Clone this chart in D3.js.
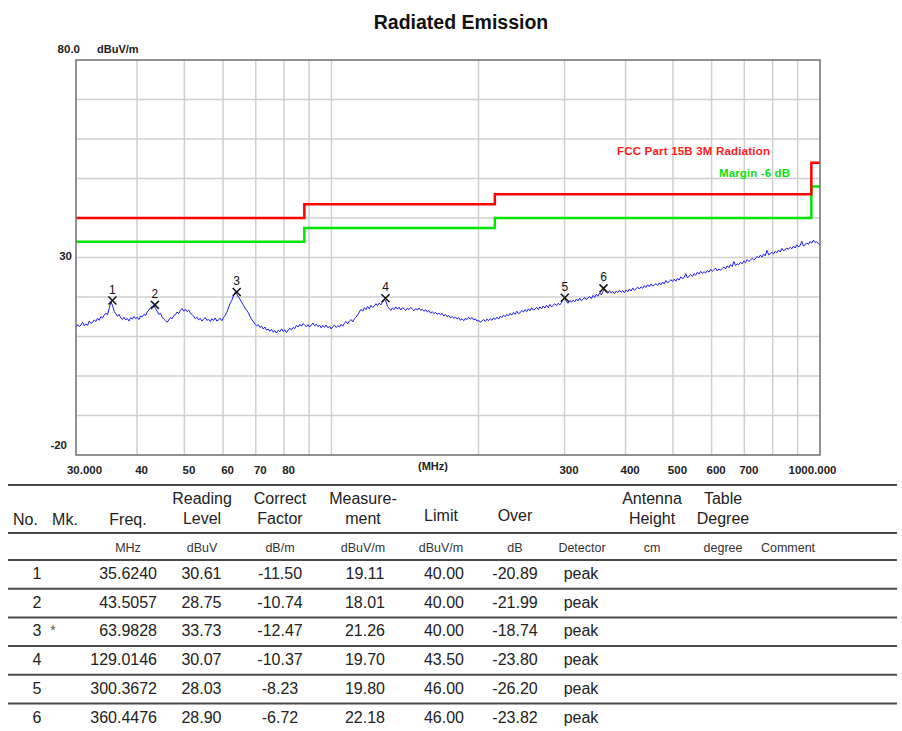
<!DOCTYPE html>
<html><head><meta charset="utf-8">
<script src="https://cdn.jsdelivr.net/npm/d3@7"></script>
<style>body{margin:0;background:#fff}svg{display:block}</style>
</head><body><svg id="c" width="902" height="731"></svg>
<script>
// ---------- DATA ----------
const sweepStart = 30, sweepStop = 1000;
const traceLevels = [
12.3,13.0,12.5,12.9,13.6,12.7,13.2,12.8,13.9,13.3,
13.6,14.2,13.8,14.6,14.1,15.0,14.7,15.4,15.9,15.5,
17.0,18.8,17.9,16.4,15.8,15.1,15.6,14.7,14.3,14.9,
14.2,14.6,13.9,14.8,14.4,15.1,14.5,14.9,14.3,15.2,
15.0,15.6,15.3,16.2,16.7,17.3,17.6,17.9,17.1,16.4,
15.6,15.9,14.9,14.4,14.0,13.6,14.2,14.8,14.5,15.3,
15.5,16.2,15.8,16.6,17.1,16.4,16.9,16.3,16.7,15.9,
15.6,15.1,14.5,14.9,14.2,14.6,13.9,14.4,14.8,14.1,
14.3,13.8,14.5,14.0,14.7,13.9,14.2,14.6,14.0,14.8,
15.3,16.1,17.2,18.4,19.1,20.3,21.2,20.7,20.0,19.4,
18.6,18.0,17.2,16.6,16.0,15.1,14.3,13.8,13.1,12.7,
13.0,12.3,12.6,11.9,12.4,11.6,11.9,11.3,11.8,11.1,
11.5,10.9,11.6,11.2,11.9,11.3,11.7,11.0,11.6,12.1,
11.7,12.3,12.0,12.8,12.4,13.1,12.6,13.3,12.9,12.5,
13.0,12.4,12.9,13.4,12.7,13.1,12.5,12.9,12.2,12.8,
12.3,12.9,12.2,12.6,11.9,12.5,12.9,12.3,12.7,12.4,
13.1,12.6,13.4,13.8,13.2,13.9,14.3,13.7,14.5,14.9,
15.5,16.2,16.9,16.4,17.3,16.8,17.6,17.0,17.9,17.3,
17.7,18.3,17.8,18.5,18.0,18.7,19.3,19.0,17.6,17.1,
16.6,17.2,16.8,17.5,16.9,17.4,16.7,17.3,17.0,16.6,
17.2,16.8,17.4,16.9,16.5,17.1,16.7,17.2,16.6,16.9,
16.4,16.8,16.2,16.6,15.9,16.3,15.8,16.1,15.6,15.9,
15.5,15.8,15.2,15.6,15.0,15.3,14.7,15.1,14.6,14.9,
14.4,14.8,14.1,14.5,14.0,14.6,14.3,14.9,14.4,14.8,
14.2,14.5,13.9,14.1,13.6,13.9,14.3,13.8,14.4,14.0,
14.5,14.1,14.7,14.3,14.9,14.4,15.1,14.8,15.4,15.0,
15.6,15.2,15.9,15.4,16.1,15.6,16.4,15.8,16.0,16.6,
16.2,16.8,16.3,17.0,16.5,17.3,16.7,16.9,17.4,16.8,
17.5,17.0,17.7,17.2,17.9,17.3,18.1,17.5,17.9,18.3,
17.8,18.4,18.0,18.6,19.4,19.7,18.8,18.4,19.1,18.7,
19.2,18.8,19.5,19.0,19.7,19.1,19.4,19.9,19.3,19.8,
20.1,19.6,20.4,19.9,20.7,20.2,21.0,20.5,21.4,22.0,
21.3,20.9,21.6,21.0,21.4,20.8,21.5,21.1,21.7,21.2,
21.6,21.1,21.8,21.3,22.0,21.5,22.3,21.7,22.1,22.5,
22.0,22.6,22.2,22.9,22.4,23.1,22.6,23.3,22.8,23.0,
23.4,22.9,23.6,23.1,23.8,23.3,24.2,23.6,23.9,24.4,
23.9,24.5,24.0,24.7,24.3,25.1,24.6,24.9,25.9,24.8,
25.3,25.7,25.2,25.9,25.5,26.3,25.8,26.5,26.0,26.4,
26.1,26.7,26.3,27.0,26.5,26.9,27.3,26.6,27.1,26.8,
27.2,27.6,27.1,27.9,27.4,28.2,27.7,29.0,28.0,28.4,
28.2,28.8,28.4,29.1,28.7,29.5,29.0,29.3,29.8,29.4,
29.7,30.3,29.9,30.6,30.1,30.9,30.4,31.8,30.7,31.0,
31.3,30.9,31.6,31.2,31.9,31.4,32.3,31.7,32.0,32.4,
32.1,32.6,32.2,32.9,32.4,33.2,32.7,33.0,34.1,32.9,
33.2,33.7,33.3,34.1,33.6,34.4,33.8,34.0,33.5,33.1
];
const limitEdges = [30, 88, 216, 960, 1000];
const limitLevels = [40, 43.5, 46, 54];
const marginLevels = [34, 37.5, 40, 48];
const limitName = "FCC Part 15B 3M Radiation";
const marginName = "Margin -6 dB";
const xGridValues = [40,50,60,70,80,90,100,200,300,400,500,600,700,800,900];
const yGridValues = [70,60,50,40,30,20,10,0,-10];
const xTickValues = [30,40,50,60,70,80,300,400,500,600,700,1000];
const xTickLabels = ["30.000","40","50","60","70","80","300","400","500","600","700","1000.000"];
const yTickValues = [80,30,-20];
const yTickLabels = ["80.0","30","-20"];

const markNo = ["1","2","3","4","5","6"];
const markMk = ["","","*","","",""];
const markFreq = ["35.6240","43.5057","63.9828","129.0146","300.3672","360.4476"];
const markReading = ["30.61","28.75","33.73","30.07","28.03","28.90"];
const markCorrect = ["-11.50","-10.74","-12.47","-10.37","-8.23","-6.72"];
const markMeasure = ["19.11","18.01","21.26","19.70","19.80","22.18"];
const markLimit = ["40.00","40.00","40.00","43.50","46.00","46.00"];
const markOver = ["-20.89","-21.99","-18.74","-23.80","-26.20","-23.82"];
const markDetector = ["peak","peak","peak","peak","peak","peak"];

const headerLines = [["No."],["Mk."],["Freq."],["Reading","Level"],["Correct","Factor"],["Measure-","ment"],["Limit"],["Over"],[],["Antenna","Height"],["Table","Degree"],[]];
const unitLabels = ["","","MHz","dBuV","dB/m","dBuV/m","dBuV/m","dB","Detector","cm","degree","Comment"];

// ---------- CHART ----------
const svg = d3.select("#c");
const F = "'Liberation Sans', Arial, sans-serif";
const L = 76, R = 820, T = 60, B = 455;
const x = d3.scaleLog().domain([sweepStart, sweepStop]).range([L, R]);
const y = d3.scaleLinear().domain([-20, 80]).range([B, T]);

svg.append("text").attr("x", 461).attr("y", 29).attr("text-anchor", "middle")
  .attr("font-family", F).attr("font-weight", "bold").attr("font-size", 19.5).attr("fill", "#111")
  .text("Radiated Emission");

// grid
const g = svg.append("g");
g.selectAll(".vg").data(xGridValues).join("line")
  .attr("x1", d => x(d)).attr("x2", d => x(d)).attr("y1", T).attr("y2", B)
  .attr("stroke", "#cfcfcf").attr("stroke-width", 1.5);
g.selectAll(".hg").data(yGridValues).join("line")
  .attr("x1", L).attr("x2", R).attr("y1", d => y(d)).attr("y2", d => y(d))
  .attr("stroke", "#cfcfcf").attr("stroke-width", 1.5);

// limit & margin
const stepLine = d3.line().x(d => x(d[0])).y(d => y(d[1])).curve(d3.curveStepAfter);
const limPts = limitEdges.map((f, i) => [f, limitLevels[Math.min(i, limitLevels.length - 1)]]);
const marPts = limitEdges.map((f, i) => [f, marginLevels[Math.min(i, marginLevels.length - 1)]]);
svg.append("path").attr("d", stepLine(marPts)).attr("fill", "none").attr("stroke", "#00e600").attr("stroke-width", 2.5);
svg.append("path").attr("d", stepLine(limPts)).attr("fill", "none").attr("stroke", "#ff0000").attr("stroke-width", 2.5);

// trace
const n = traceLevels.length;
const traceLine = d3.line()
  .x((d, i) => x(sweepStart * Math.pow(sweepStop / sweepStart, i / (n - 1))))
  .y(d => y(d));
svg.append("path").attr("d", traceLine(traceLevels)).attr("fill", "none")
  .attr("stroke", "#1a1aff").attr("stroke-width", 1);

// markers
const mk = svg.append("g");
markNo.forEach((no, i) => {
  const cx = x(+markFreq[i]), cy = y(+markMeasure[i]);
  mk.append("path").attr("d", `M${cx-4},${cy-4}L${cx+4},${cy+4}M${cx+4},${cy-4}L${cx-4},${cy+4}`)
    .attr("stroke", "#111").attr("stroke-width", 1.5);
  mk.append("text").attr("x", cx).attr("y", cy - 7).attr("text-anchor", "middle")
    .attr("font-family", F).attr("font-size", 12).attr("fill", "#111").text(no);
});

// border
svg.append("rect").attr("x", L).attr("y", T).attr("width", R - L).attr("height", B - T)
  .attr("fill", "none").attr("stroke", "#6e6e6e").attr("stroke-width", 1.5);

// x axis labels
const xAxis = d3.axisBottom(x).tickValues(xTickValues).tickFormat((d, i) => xTickLabels[i]).tickSize(0).tickPadding(11);
const xa = svg.append("g").attr("transform", `translate(0,${B})`).call(xAxis);
xa.select(".domain").remove();
xa.selectAll("text").attr("font-family", F).attr("font-weight", "bold").attr("font-size", 11.5).attr("fill", "#222")
  .attr("dx", (d, i) => i === 0 ? 8 : (i === xTickValues.length - 1 ? -8 : 4));
svg.append("text").attr("x", 433).attr("y", 470).attr("text-anchor", "middle")
  .attr("font-family", F).attr("font-weight", "bold").attr("font-size", 11).attr("fill", "#222").text("(MHz)");

// y axis labels
const yOff = [-11, -2, -10];
const yEnd = [80, 72, 67];
yTickValues.forEach((v, i) => {
  svg.append("text").attr("x", yEnd[i]).attr("y", y(v) + yOff[i] + 4).attr("text-anchor", "end")
    .attr("font-family", F).attr("font-weight", "bold").attr("font-size", 11.5).attr("fill", "#222").text(yTickLabels[i]);
});
svg.append("text").attr("x", 97).attr("y", 53).attr("font-family", F).attr("font-weight", "bold")
  .attr("font-size", 11).attr("fill", "#222").text("dBuV/m");

// legend
svg.append("text").attr("x", 617).attr("y", 155).attr("font-family", F).attr("font-weight", "bold")
  .attr("font-size", 11.5).attr("fill", "#ff1a1a").attr("textLength", 153).attr("lengthAdjust", "spacing").text(limitName);
svg.append("text").attr("x", 719).attr("y", 177).attr("font-family", F).attr("font-weight", "bold")
  .attr("font-size", 11.5).attr("fill", "#10e010").attr("textLength", 71).attr("lengthAdjust", "spacing").text(marginName);

// ---------- TABLE ----------
const tb = svg.append("g").attr("font-family", F);
const rule = yy => tb.append("line").attr("x1", 8).attr("x2", 897).attr("y1", yy).attr("y2", yy)
  .attr("stroke", "#4a4a4a").attr("stroke-width", 2);
rule(485); rule(533);
const hdrX = [25.5, 65, 128, 202, 280, 363, 441, 515, 582, 652, 723, 788];
headerLines.forEach((lines, i) => {
  if (lines.length === 1) {
    const by = (i === 6 || i === 7) ? 521 : 525;
    tb.append("text").attr("x", hdrX[i]).attr("y", by).attr("text-anchor", "middle")
      .attr("font-size", 16).attr("fill", "#222").text(lines[0]);
  } else if (lines.length === 2) {
    lines.forEach((t, k) => tb.append("text").attr("x", hdrX[i]).attr("y", 504 + k * 20)
      .attr("text-anchor", "middle").attr("font-size", 16).attr("fill", "#222").text(t));
  }
});
unitLabels.forEach((u, i) => {
  if (!u) return;
  tb.append("text").attr("x", hdrX[i]).attr("y", 552).attr("text-anchor", "middle")
    .attr("font-size", 12.5).attr("fill", "#333").text(u);
});
const rowPitch = 28.7;
markNo.forEach((no, i) => {
  const ry = 560 + i * rowPitch;
  rule(ry);
  const by = ry + 19;
  const cell = (xx, t, anchor) => tb.append("text").attr("x", xx).attr("y", by)
    .attr("text-anchor", anchor || "middle").attr("font-size", 16).attr("fill", "#222").text(t);
  cell(37, no);
  if (markMk[i]) tb.append("text").attr("x", 53).attr("y", by - 1).attr("text-anchor", "middle")
    .attr("font-size", 14).attr("fill", "#555").text(markMk[i]);
  cell(157, markFreq[i], "end");
  cell(201.5, markReading[i]);
  cell(280, markCorrect[i]);
  cell(365, markMeasure[i]);
  cell(444, markLimit[i]);
  cell(515, markOver[i]);
  cell(581, markDetector[i]);
});
</script>
</body></html>
